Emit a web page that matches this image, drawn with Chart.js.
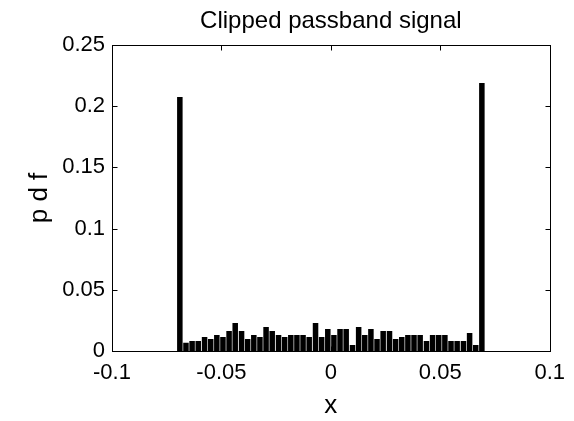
<!DOCTYPE html>
<html>
<head>
<meta charset="utf-8">
<script src="https://cdn.jsdelivr.net/npm/chart.js@4/dist/chart.umd.min.js"></script>
<style>
  html, body { margin: 0; padding: 0; background: #fff; }
  #wrap { width: 574px; height: 421px; }
</style>
</head>
<body>
<div id="wrap"><canvas id="grafico" width="574" height="421"></canvas></div>
<script>
// centros dos 50 bins do histograma
const binCenters = [
  -0.0690, -0.0662, -0.0634, -0.0606, -0.0577, -0.0549, -0.0521, -0.0493, -0.0465, -0.0437,
  -0.0408, -0.0380, -0.0352, -0.0324, -0.0296, -0.0268, -0.0239, -0.0211, -0.0183, -0.0155,
  -0.0127, -0.0099, -0.0070, -0.0042, -0.0014, 0.0014, 0.0042, 0.0070, 0.0099, 0.0127,
  0.0155, 0.0183, 0.0211, 0.0239, 0.0268, 0.0296, 0.0324, 0.0352, 0.0380, 0.0408,
  0.0437, 0.0465, 0.0493, 0.0521, 0.0549, 0.0577, 0.0606, 0.0634, 0.0662, 0.0690
];

// pdf estimada em cada bin
const pdfValues = [
  0.2075, 0.0068, 0.0082, 0.0082, 0.0114, 0.0098, 0.0131, 0.0114, 0.0163, 0.0229,
  0.0163, 0.0098, 0.0131, 0.0114, 0.0196, 0.0163, 0.0131, 0.0114, 0.0131, 0.0131,
  0.0131, 0.0114, 0.0229, 0.0114, 0.0180, 0.0131, 0.0180, 0.0180, 0.0049, 0.0196,
  0.0131, 0.0180, 0.0098, 0.0163, 0.0163, 0.0098, 0.0114, 0.0131, 0.0131, 0.0131,
  0.0082, 0.0131, 0.0131, 0.0131, 0.0082, 0.0082, 0.0082, 0.0147, 0.0049, 0.2190
];

const xTickLabels = ['-0.1', '-0.05', '0', '0.05', '0.1'];
const yTickLabels = ['0', '0.05', '0.1', '0.15', '0.2', '0.25'];

Chart.defaults.font.family = '"Liberation Sans", Arial, sans-serif';
Chart.defaults.color = '#000';

// caixa do eixo e marcas internas (estilo MATLAB)
const caixaEixos = {
  id: 'caixaEixos',
  afterDraw(chart) {
    const { ctx, chartArea: a, scales: { x, y } } = chart;
    const L = Math.round(a.left) + 0.5, R = Math.round(a.right) + 0.5;
    const T = Math.round(a.top) + 0.5, B = Math.round(a.bottom) + 0.5;
    ctx.save();
    ctx.strokeStyle = '#000';
    ctx.lineWidth = 1;
    ctx.strokeRect(L, T, R - L, B - T);
    ctx.beginPath();
    y.ticks.forEach(t => {
      const py = Math.round(y.getPixelForValue(t.value)) + 0.5;
      ctx.moveTo(L, py); ctx.lineTo(L + 5, py);
      ctx.moveTo(R, py); ctx.lineTo(R - 5, py);
    });
    x.ticks.forEach(t => {
      const px = Math.round(x.getPixelForValue(t.value)) + 0.5;
      ctx.moveTo(px, B); ctx.lineTo(px, B - 5);
      ctx.moveTo(px, T); ctx.lineTo(px, T + 5);
    });
    ctx.stroke();
    ctx.restore();
  }
};

new Chart(document.querySelector('#grafico'), {
  type: 'bar',
  data: {
    datasets: [{
      data: binCenters.map((c, i) => ({ x: c, y: pdfValues[i] })),
      backgroundColor: '#000',
      borderWidth: 0,
      barPercentage: 0.9,
      categoryPercentage: 1
    }]
  },
  options: {
    responsive: false,
    animation: false,
    layout: { padding: { left: 0, right: 22, top: 0, bottom: 0 } },
    plugins: {
      legend: { display: false },
      tooltip: { enabled: false },
      title: {
        display: true,
        text: 'Clipped passband signal',
        fullSize: false,
        font: { size: 24, weight: 'normal' },
        padding: { top: 7, bottom: 9.2 }
      }
    },
    scales: {
      x: {
        type: 'linear',
        min: -0.1,
        max: 0.1,
        offset: false,
        grid: { display: false, drawTicks: false, offset: false },
        border: { display: false },
        ticks: {
          stepSize: 0.05,
          padding: 9,
          maxRotation: 0,
          font: { size: 22 },
          callback: (v, i) => xTickLabels[i]
        },
        title: { display: true, text: 'x', font: { size: 26 }, padding: { top: 0, bottom: 0 } },
        afterFit: s => { s.height = 70; }
      },
      y: {
        min: 0,
        max: 0.25,
        grid: { display: false, drawTicks: false },
        border: { display: false },
        ticks: {
          stepSize: 0.05,
          padding: 7,
          font: { size: 22 },
          callback: (v, i) => yTickLabels[i]
        },
        title: { display: true, text: 'p d f', font: { size: 26 }, padding: { top: 24, bottom: 0 } },
        afterFit: s => { s.width = 112; }
      }
    }
  },
  plugins: [caixaEixos]
});
</script>
</body>
</html>
